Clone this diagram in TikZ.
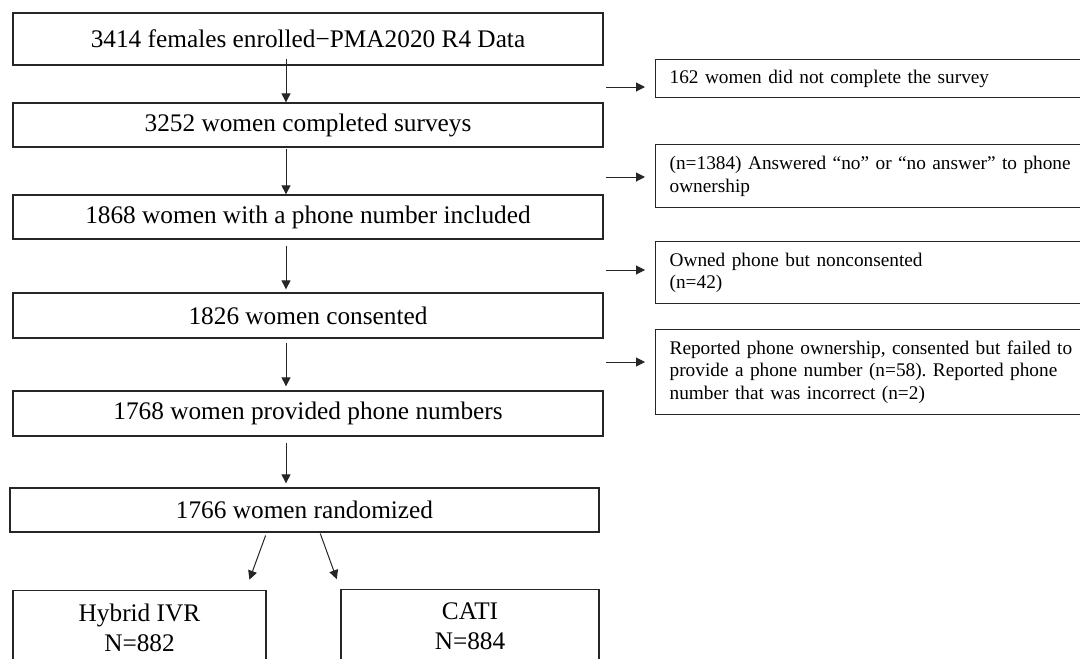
\documentclass[tikz,border=0pt]{standalone}
\usepackage{fontspec}
\setmainfont{Liberation Serif}
\usetikzlibrary{arrows.meta,calc}
\begin{document}
\frenchspacing
\begin{tikzpicture}[x=1pt,y=-1pt,
  mainbox/.style={draw=black!85, line width=1.3pt, inner sep=0pt,
    font=\fontsize{25.3}{30}\selectfont, align=center},
  sidebox/.style={draw=black!85, line width=1.3pt, anchor=north west,
    inner xsep=14pt, inner ysep=0pt, minimum width=450pt, text width=422pt,
    font=\fontsize{19.3}{22.5}\selectfont\frenchspacing, align=left},
  arr/.style={draw=black!85, line width=1pt, -{Triangle[length=9pt,width=9pt]}}]
\useasboundingbox (0,0) rectangle (1080,659);
\fill[white] (0,0) rectangle (1080,659);
\clip (0,0) rectangle (1080,659);

% main flow
\node[mainbox, minimum width=590pt, minimum height=52pt] (b1) at (308,39) {3414 females enrolled−PMA2020 R4 Data};
\node[mainbox, minimum width=590pt, minimum height=44pt] (b2) at (308,125) {3252 women completed surveys};
\node[mainbox, minimum width=590pt, minimum height=44pt] (b3) at (308,217) {1868 women with a phone number included};
\node[mainbox, minimum width=590pt, minimum height=45pt] (b4) at (308,315.5) {1826 women consented};
\node[mainbox, minimum width=590pt, minimum height=45pt] (b5) at (308,413.5) {1768 women provided phone numbers};
\node[mainbox, minimum width=589pt, minimum height=44pt] (b6) at (304.5,510) {1766 women randomized};
\node[mainbox, anchor=north, minimum width=253pt, inner ysep=13pt] (b7) at (139.5,590) {Hybrid IVR\\N=882};
\node[mainbox, anchor=north, minimum width=258pt, inner ysep=13pt] (b8) at (470,589) {CATI\\N=884};

% exclusion boxes
\node[sidebox, minimum height=38pt] (r1) at (655,59) {162 women did not complete the survey};
\node[sidebox, minimum height=63pt] (r2) at (655,144) {(n=1384) Answered “no” or “no answer” to phone\\ownership};
\node[sidebox, minimum height=62pt] (r3) at (655,241) {Owned phone but nonconsented\\(n=42)};
\node[sidebox, minimum height=85pt] (r4) at (655,329) {Reported phone ownership, consented but failed to\\provide a phone number (n=58). Reported phone\\number that was incorrect (n=2)};

% vertical arrows
\coordinate (ax) at (286,0);
\draw[arr] ([yshift=7pt]b1.south -| ax) -- (b2.north -| ax);
\draw[arr, shorten <=1pt] (b2.south -| ax) -- (b3.north -| ax);
\draw[arr, shorten <=6pt, shorten >=3pt] (b3.south -| ax) -- (b4.north -| ax);
\draw[arr, shorten <=4pt, shorten >=4pt] (b4.south -| ax) -- (b5.north -| ax);
\draw[arr, shorten <=6pt, shorten >=4pt] (b5.south -| ax) -- (b6.north -| ax);

% side arrows
\coordinate (e1) at (606,87);
\coordinate (e2) at (606,177);
\coordinate (e3) at (606,270);
\coordinate (e4) at (606,362);
\draw[arr, shorten >=10pt] (e1) -- (r1.west |- e1);
\draw[arr, shorten >=10pt] (e2) -- (r2.west |- e2);
\draw[arr, shorten >=10pt] (e3) -- (r3.west |- e3);
\draw[arr, shorten >=10pt] (e4) -- (r4.west |- e4);

% randomisation arrows
\draw[arr, shorten <=3pt, shorten >=11pt] (b6.south -| b7.east) -- ($(b7.north east)+(-21,0)$);
\draw[arr, shorten <=1pt, shorten >=10.5pt] ($(b8.north west |- b6.south)+(-20.4,0)$) -- (b8.north west);
\end{tikzpicture}
\end{document}
